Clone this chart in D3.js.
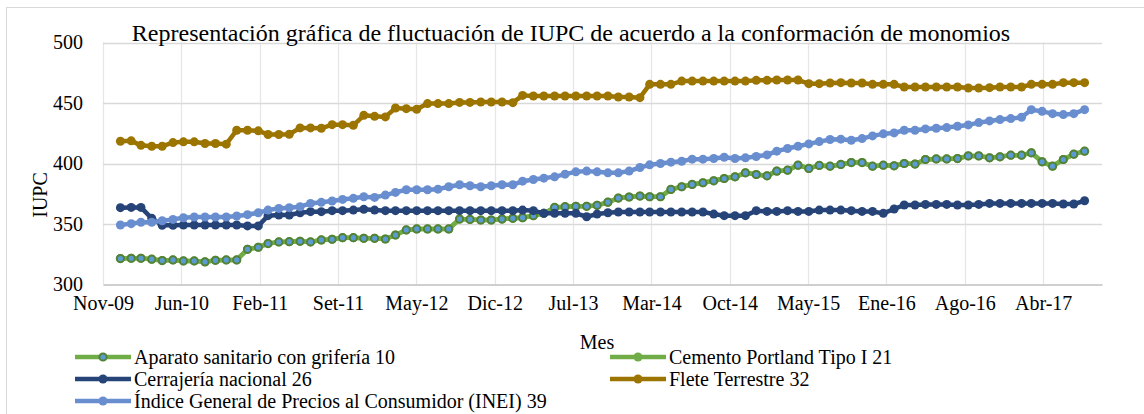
<!DOCTYPE html>
<html>
<head>
<meta charset="utf-8">
<script src="https://cdn.jsdelivr.net/npm/d3@7"></script>
<style>
  body { margin: 0; background: #fff; }
  text { font-family: "Liberation Serif", "Times New Roman", serif; fill: #000; }
</style>
</head>
<body>
<svg width="1144" height="414"></svg>
<script>
// Datos
const tickLabels = ["Nov-09","Jun-10","Feb-11","Set-11","May-12","Dic-12","Jul-13","Mar-14","Oct-14","May-15","Ene-16","Ago-16","Abr-17"];

const aparato = [321.4,321.7,321.7,320.9,319.8,320.3,319.5,319.5,318.7,320,320.3,320.3,329.1,330.8,333.8,335.2,335.4,335.7,335.2,336.8,337.4,338.7,
  338.7,338.2,338.2,337.6,340.9,345.1,345.9,345.9,345.9,345.9,354.1,353.8,353.3,353.3,354.1,354.7,355.2,356.9,358.8,363.7,364.3,364.6,364.6,365.4,
  368,371.4,372.3,373.1,372.5,372.5,378.6,380.8,382.7,384.1,385.7,387.6,389,392.3,390.9,389.8,393.7,394.5,398.6,395.9,398.4,397.8,399.2,
  400.8,400.8,397.8,398.6,398.1,400,399.5,403.3,403.8,403.8,404.1,406.3,406.3,404.7,405.5,406.9,406.9,408.8,401.4,397.8,403.3,407.7,410.2];

const cemento = [321.4,321.7,321.7,320.9,319.8,320.3,319.5,319.5,318.7,320,320.3,320.3,329.1,330.8,333.8,335.2,335.4,335.7,335.2,336.8,337.4,338.7,
  338.7,338.2,338.2,337.6,340.9,345.1,345.9,345.9,345.9,345.9,354.1,353.8,353.3,353.3,354.1,354.7,355.2,356.9,358.8,363.7,364.3,364.6,364.6,365.4,
  368,371.4,372.3,373.1,372.5,372.5,378.6,380.8,382.7,384.1,385.7,387.6,389,392.3,390.9,389.8,393.7,394.5,398.6,395.9,398.4,397.8,399.2,
  400.8,400.8,397.8,398.6,398.1,400,399.5,403.3,403.8,403.8,404.1,406.3,406.3,404.7,405.5,406.9,406.9,408.8,401.4,397.8,403.3,407.7,410.2];

const cerrajeria = [363.5,363.7,363.7,354.7,349,349,349.2,349.2,349.2,349.2,349.2,349.2,348.4,348.4,356.9,357.4,357.4,359.3,360.2,360.2,361,361,
  361.5,362.1,361.5,361,361,361,361,361,361,361,361,361,361,361,361,361,361.5,361,358.8,358.8,358.8,358.8,356,358.2,
  359.3,359.9,359.9,359.9,359.9,359.9,359.9,359.9,359.9,359.9,358.2,356.9,356.9,356.9,361,360.4,360.4,361,360.4,360.4,361.5,361.5,361.5,
  361,360.4,360.4,358.8,362.4,365.7,365.7,366.2,366.2,366.2,365.7,365.7,366.2,367,367,367,367,367,367,367,366.5,366.5,369.2];

const flete = [418.4,418.7,415,414.3,414.3,417.3,417.9,417.9,416.5,416.5,416,427.5,427.5,427,424,424,424.2,429.4,429.4,429.1,432.1,432.1,
  431.6,439.8,439,438.5,445.9,445.3,444.8,449.5,449.5,449.5,450.5,450.5,450.8,450.8,450.8,450.3,456.3,455.8,455.8,455.8,455.8,455.8,455.8,455.8,
  455.8,455,455,454.4,465.4,465.4,465.4,468.1,468.1,468.1,468.1,468.1,468.1,468.1,468.7,468.7,469,469,469,466,466,466.5,466.8,
  466.5,466.5,465.4,465.4,465.4,463.2,463.2,463.2,463.2,463.2,463.2,462.4,462.4,462.7,463.2,463.2,463.2,465.4,465.4,465.4,466.8,466.8,466.8];

const indice = [349.2,350.3,351.4,351.4,352.7,353.8,355.2,355.8,355.8,355.8,355.8,356.6,357.7,359.3,361.5,362.9,363.5,364.3,367,367.9,369,370.3,
  371.2,372.5,372,373.9,376.1,378.3,378.3,378.3,378.8,380.8,382.4,381.6,380.8,381.6,382.4,382.4,385.4,386.8,387.9,389,391.2,393.1,393.7,393.1,
  392.3,392.3,393.7,396.7,398.9,400,401.1,401.9,403.6,403.6,404.1,405.2,404.1,404.7,405.8,407.1,410.2,412.4,414.3,416.2,418.1,419.8,420.1,
  419.2,420.6,422.8,424.5,425.3,427.5,427.5,428.6,429.1,429.7,430.8,431.9,433.8,435.2,436.3,437.1,438.2,444.5,443.1,441.2,440.4,441.2,444.5];

// meses (ene-2010 a ago-2017)
const meses = d3.timeMonth.range(new Date(2010, 0, 1), new Date(2017, 7, 2));

const series = [
  {name: "Cemento Portland Tipo I 21", values: cemento, line: "#70AD47", fill: "#70AD47", stroke: "#70AD47", r: 4.5},
  {name: "Aparato sanitario con grifería 10", values: aparato, line: "#70AD47", fill: "#5B9BD5", stroke: "#548235", r: 3.6},
  {name: "Cerrajería nacional 26", values: cerrajeria, line: "#264478", fill: "#264478", stroke: "#264478", r: 4.5},
  {name: "Flete Terrestre 32", values: flete, line: "#9C7400", fill: "#9C7400", stroke: "#9C7400", r: 4.5},
  {name: "Índice General de Precios al Consumidor (INEI) 39", values: indice, line: "#698ED0", fill: "#698ED0", stroke: "#698ED0", r: 4.5}
];

const svg = d3.select("svg");

// marco
svg.append("rect")
  .attr("x", 6.5).attr("y", 7.5)
  .attr("width", 1150).attr("height", 420)
  .attr("fill", "#fff").attr("stroke", "#D9D9D9");

const plotLeft = 103, plotRight = 1102, plotTop = 42.5, plotBottom = 284.5;
const start = new Date(2009, 10, 12);

const x = d3.scaleTime()
  .domain([start, d3.timeDay.offset(start, 2869)])
  .range([plotLeft, plotRight]);
const y = d3.scaleLinear().domain([300, 500]).range([plotBottom, plotTop]);

const tickDates = tickLabels.map((d, i) => d3.timeDay.offset(start, 225 * i));

// grilla
svg.append("g")
  .selectAll("line")
  .data(tickDates)
  .join("line")
    .attr("x1", d => Math.round(x(d)) + 0.5).attr("x2", d => Math.round(x(d)) + 0.5)
    .attr("y1", plotTop).attr("y2", plotBottom)
    .attr("stroke", "#E6E6E6").attr("stroke-width", 1.3);

svg.append("g")
  .selectAll("line")
  .data([350, 400, 450, 500])
  .join("line")
    .attr("x1", plotLeft).attr("x2", plotRight)
    .attr("y1", d => Math.round(y(d)) + 0.5).attr("y2", d => Math.round(y(d)) + 0.5)
    .attr("stroke", "#D9D9D9").attr("stroke-width", 1.3);

// ejes
const xAxis = svg.append("g")
  .attr("transform", `translate(0,${plotBottom})`)
  .call(d3.axisBottom(x).tickValues(tickDates).tickFormat((d, i) => tickLabels[i]).tickSize(0).tickPadding(11));
xAxis.select(".domain").attr("stroke", "#BFBFBF").attr("stroke-width", 1.5);
xAxis.selectAll("text").attr("font-size", 20).attr("font-family", "Liberation Serif");

const yAxis = svg.append("g")
  .attr("transform", `translate(${plotLeft},0)`)
  .call(d3.axisLeft(y).tickValues([300, 350, 400, 450, 500]).tickSize(0).tickPadding(20));
yAxis.select(".domain").remove();
yAxis.selectAll("text").attr("font-size", 20).attr("font-family", "Liberation Serif");

// series
const line = d3.line()
  .x((d, i) => x(meses[i]))
  .y(d => y(d));

series.forEach(s => {
  const g = svg.append("g");
  g.append("path")
    .datum(s.values)
    .attr("d", line)
    .attr("fill", "none")
    .attr("stroke", s.line)
    .attr("stroke-width", 4.5)
    .attr("stroke-linejoin", "round");
  g.selectAll("circle")
    .data(s.values)
    .join("circle")
      .attr("cx", (d, i) => x(meses[i]))
      .attr("cy", d => y(d))
      .attr("r", s.r)
      .attr("fill", s.fill)
      .attr("stroke", s.stroke)
      .attr("stroke-width", s.stroke === s.fill ? 0 : 2);
});

// textos
svg.append("text")
  .attr("x", 571).attr("y", 41)
  .attr("text-anchor", "middle")
  .attr("font-size", 24)
  .text("Representación gráfica de fluctuación de IUPC de acuerdo a la conformación de monomios");

svg.append("text")
  .attr("transform", "translate(47,195) rotate(-90)")
  .attr("text-anchor", "middle")
  .attr("font-size", 20)
  .text("IUPC");

svg.append("text")
  .attr("x", 597).attr("y", 349)
  .attr("text-anchor", "middle")
  .attr("font-size", 20)
  .text("Mes");

// leyenda
const legendOrder = [
  {s: series[1], x: 75, y: 357},
  {s: series[0], x: 610, y: 357},
  {s: series[2], x: 75, y: 379},
  {s: series[3], x: 610, y: 379},
  {s: series[4], x: 75, y: 401}
];

const leg = svg.append("g")
  .selectAll("g")
  .data(legendOrder)
  .join("g")
    .attr("transform", d => `translate(${d.x},${d.y})`);

leg.append("line")
  .attr("x1", 0).attr("x2", 56)
  .attr("stroke", d => d.s.line)
  .attr("stroke-width", 4.5);
leg.append("circle")
  .attr("cx", 28)
  .attr("r", d => d.s.r)
  .attr("fill", d => d.s.fill)
  .attr("stroke", d => d.s.stroke)
  .attr("stroke-width", d => d.s.stroke === d.s.fill ? 0 : 2);
leg.append("text")
  .attr("x", 59).attr("dy", "0.33em")
  .attr("font-size", 20)
  .text(d => d.s.name);
</script>
</body>
</html>
